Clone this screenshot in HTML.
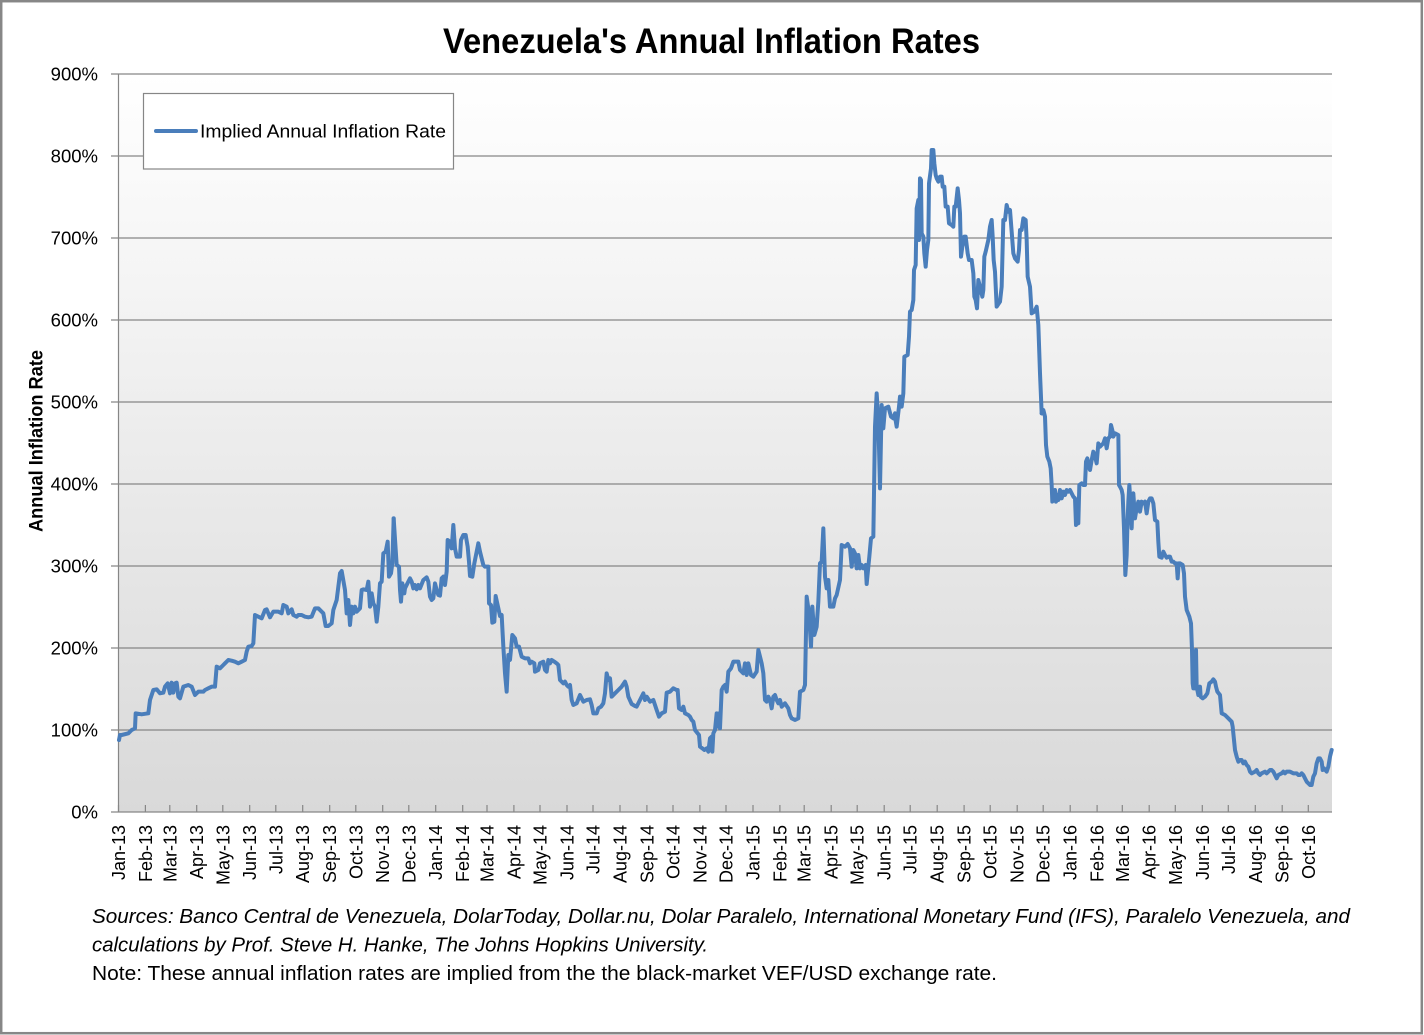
<!DOCTYPE html>
<html>
<head>
<meta charset="utf-8">
<style>
  html, body { margin:0; padding:0; background:#ffffff; }
  svg { display:block; }
  text { font-family: "Liberation Sans", Arial, sans-serif; fill:#000; }
</style>
</head>
<body>
<svg width="1424" height="1035" viewBox="0 0 1424 1035" xmlns="http://www.w3.org/2000/svg">
  <defs>
    <linearGradient id="bg" x1="0" y1="0" x2="0" y2="1">
      <stop offset="0" stop-color="#ffffff"/>
      <stop offset="1" stop-color="#d9d9d9"/>
    </linearGradient>
  </defs>

  <!-- outer border -->
  <rect x="1.2" y="1.2" width="1420.6" height="1032" fill="#ffffff" stroke="#878787" stroke-width="2.5"/>

  <!-- title -->
  <text x="443" y="53" font-size="35" font-weight="bold" textLength="537" lengthAdjust="spacingAndGlyphs">Venezuela's Annual Inflation Rates</text>

  <!-- plot area -->
  <rect x="118" y="74" width="1214" height="738" fill="url(#bg)"/>

  <!-- gridlines -->
  <g stroke="#868686" stroke-width="1.2">
    <line x1="111" y1="74" x2="1332" y2="74"/>
    <line x1="111" y1="156" x2="1332" y2="156"/>
    <line x1="111" y1="238" x2="1332" y2="238"/>
    <line x1="111" y1="320" x2="1332" y2="320"/>
    <line x1="111" y1="402" x2="1332" y2="402"/>
    <line x1="111" y1="484" x2="1332" y2="484"/>
    <line x1="111" y1="566" x2="1332" y2="566"/>
    <line x1="111" y1="648" x2="1332" y2="648"/>
    <line x1="111" y1="730" x2="1332" y2="730"/>
    <line x1="111" y1="812" x2="1332" y2="812"/>
    <line x1="118.5" y1="74" x2="118.5" y2="812"/>
  </g>

  <!-- x ticks (inward) -->
  <g stroke="#868686" stroke-width="1.2">
    <line x1="118.5" y1="805" x2="118.5" y2="812"/>
    <line x1="145.4" y1="805" x2="145.4" y2="812"/>
    <line x1="169.8" y1="805" x2="169.8" y2="812"/>
    <line x1="196.7" y1="805" x2="196.7" y2="812"/>
    <line x1="222.8" y1="805" x2="222.8" y2="812"/>
    <line x1="249.7" y1="805" x2="249.7" y2="812"/>
    <line x1="275.8" y1="805" x2="275.8" y2="812"/>
    <line x1="302.7" y1="805" x2="302.7" y2="812"/>
    <line x1="329.7" y1="805" x2="329.7" y2="812"/>
    <line x1="355.8" y1="805" x2="355.8" y2="812"/>
    <line x1="382.7" y1="805" x2="382.7" y2="812"/>
    <line x1="408.8" y1="805" x2="408.8" y2="812"/>
    <line x1="435.7" y1="805" x2="435.7" y2="812"/>
    <line x1="462.7" y1="805" x2="462.7" y2="812"/>
    <line x1="487.0" y1="805" x2="487.0" y2="812"/>
    <line x1="513.9" y1="805" x2="513.9" y2="812"/>
    <line x1="540.0" y1="805" x2="540.0" y2="812"/>
    <line x1="567.0" y1="805" x2="567.0" y2="812"/>
    <line x1="593.0" y1="805" x2="593.0" y2="812"/>
    <line x1="620.0" y1="805" x2="620.0" y2="812"/>
    <line x1="646.9" y1="805" x2="646.9" y2="812"/>
    <line x1="673.0" y1="805" x2="673.0" y2="812"/>
    <line x1="699.9" y1="805" x2="699.9" y2="812"/>
    <line x1="726.0" y1="805" x2="726.0" y2="812"/>
    <line x1="753.0" y1="805" x2="753.0" y2="812"/>
    <line x1="779.9" y1="805" x2="779.9" y2="812"/>
    <line x1="804.2" y1="805" x2="804.2" y2="812"/>
    <line x1="831.2" y1="805" x2="831.2" y2="812"/>
    <line x1="857.2" y1="805" x2="857.2" y2="812"/>
    <line x1="884.2" y1="805" x2="884.2" y2="812"/>
    <line x1="910.2" y1="805" x2="910.2" y2="812"/>
    <line x1="937.2" y1="805" x2="937.2" y2="812"/>
    <line x1="964.1" y1="805" x2="964.1" y2="812"/>
    <line x1="990.2" y1="805" x2="990.2" y2="812"/>
    <line x1="1017.2" y1="805" x2="1017.2" y2="812"/>
    <line x1="1043.2" y1="805" x2="1043.2" y2="812"/>
    <line x1="1070.2" y1="805" x2="1070.2" y2="812"/>
    <line x1="1097.1" y1="805" x2="1097.1" y2="812"/>
    <line x1="1122.3" y1="805" x2="1122.3" y2="812"/>
    <line x1="1149.2" y1="805" x2="1149.2" y2="812"/>
    <line x1="1175.3" y1="805" x2="1175.3" y2="812"/>
    <line x1="1202.3" y1="805" x2="1202.3" y2="812"/>
    <line x1="1228.3" y1="805" x2="1228.3" y2="812"/>
    <line x1="1255.3" y1="805" x2="1255.3" y2="812"/>
    <line x1="1282.2" y1="805" x2="1282.2" y2="812"/>
    <line x1="1308.3" y1="805" x2="1308.3" y2="812"/>
  </g>

  <!-- y labels -->
  <g font-size="18.5" text-anchor="end">
    <text x="98" y="80.5">900%</text>
    <text x="98" y="162.5">800%</text>
    <text x="98" y="244.5">700%</text>
    <text x="98" y="326.5">600%</text>
    <text x="98" y="408.5">500%</text>
    <text x="98" y="490.5">400%</text>
    <text x="98" y="572.5">300%</text>
    <text x="98" y="654.5">200%</text>
    <text x="98" y="736.5">100%</text>
    <text x="98" y="818.5">0%</text>
  </g>

  <!-- y axis title -->
  <text transform="translate(42.5,441) rotate(-90)" font-size="19" font-weight="bold" text-anchor="middle" textLength="182" lengthAdjust="spacingAndGlyphs">Annual Inflation Rate</text>

  <!-- x labels -->
  <g font-size="18" text-anchor="end">
    <text transform="translate(125.0,825) rotate(-90)">Jan-13</text>
    <text transform="translate(151.9,825) rotate(-90)">Feb-13</text>
    <text transform="translate(176.3,825) rotate(-90)">Mar-13</text>
    <text transform="translate(203.2,825) rotate(-90)">Apr-13</text>
    <text transform="translate(229.3,825) rotate(-90)">May-13</text>
    <text transform="translate(256.2,825) rotate(-90)">Jun-13</text>
    <text transform="translate(282.3,825) rotate(-90)">Jul-13</text>
    <text transform="translate(309.2,825) rotate(-90)">Aug-13</text>
    <text transform="translate(336.2,825) rotate(-90)">Sep-13</text>
    <text transform="translate(362.3,825) rotate(-90)">Oct-13</text>
    <text transform="translate(389.2,825) rotate(-90)">Nov-13</text>
    <text transform="translate(415.3,825) rotate(-90)">Dec-13</text>
    <text transform="translate(442.2,825) rotate(-90)">Jan-14</text>
    <text transform="translate(469.2,825) rotate(-90)">Feb-14</text>
    <text transform="translate(493.5,825) rotate(-90)">Mar-14</text>
    <text transform="translate(520.4,825) rotate(-90)">Apr-14</text>
    <text transform="translate(546.5,825) rotate(-90)">May-14</text>
    <text transform="translate(573.5,825) rotate(-90)">Jun-14</text>
    <text transform="translate(599.5,825) rotate(-90)">Jul-14</text>
    <text transform="translate(626.5,825) rotate(-90)">Aug-14</text>
    <text transform="translate(653.4,825) rotate(-90)">Sep-14</text>
    <text transform="translate(679.5,825) rotate(-90)">Oct-14</text>
    <text transform="translate(706.4,825) rotate(-90)">Nov-14</text>
    <text transform="translate(732.5,825) rotate(-90)">Dec-14</text>
    <text transform="translate(759.5,825) rotate(-90)">Jan-15</text>
    <text transform="translate(786.4,825) rotate(-90)">Feb-15</text>
    <text transform="translate(810.7,825) rotate(-90)">Mar-15</text>
    <text transform="translate(837.7,825) rotate(-90)">Apr-15</text>
    <text transform="translate(863.7,825) rotate(-90)">May-15</text>
    <text transform="translate(890.7,825) rotate(-90)">Jun-15</text>
    <text transform="translate(916.7,825) rotate(-90)">Jul-15</text>
    <text transform="translate(943.7,825) rotate(-90)">Aug-15</text>
    <text transform="translate(970.6,825) rotate(-90)">Sep-15</text>
    <text transform="translate(996.7,825) rotate(-90)">Oct-15</text>
    <text transform="translate(1023.7,825) rotate(-90)">Nov-15</text>
    <text transform="translate(1049.7,825) rotate(-90)">Dec-15</text>
    <text transform="translate(1076.7,825) rotate(-90)">Jan-16</text>
    <text transform="translate(1103.6,825) rotate(-90)">Feb-16</text>
    <text transform="translate(1128.8,825) rotate(-90)">Mar-16</text>
    <text transform="translate(1155.7,825) rotate(-90)">Apr-16</text>
    <text transform="translate(1181.8,825) rotate(-90)">May-16</text>
    <text transform="translate(1208.8,825) rotate(-90)">Jun-16</text>
    <text transform="translate(1234.8,825) rotate(-90)">Jul-16</text>
    <text transform="translate(1261.8,825) rotate(-90)">Aug-16</text>
    <text transform="translate(1288.7,825) rotate(-90)">Sep-16</text>
    <text transform="translate(1314.8,825) rotate(-90)">Oct-16</text>
  </g>

  <!-- series -->
  <g fill="none" stroke="#4a7ebb" stroke-width="4" stroke-linejoin="round" stroke-linecap="round">
    <g transform="translate(115,500) scale(0.333333)">
      <polyline vector-effect="non-scaling-stroke" points="12,720 15,705 20,705 40,700 50,690 60,685 62,640 80,643 100,640 105,600 115,570 125,568 135,580 145,578 150,560 158,550 165,580 170,548 175,578 180,550 185,548 190,590 195,595 205,560 220,555 230,560 240,585 250,575 265,575 270,570 280,565 290,560 300,560 305,500 315,505 325,495 330,490 340,480 350,482 360,485 370,490 380,485 390,480 395,455 400,440 410,438 415,430 420,345 430,350 440,355 450,330 455,328 460,340 465,352 475,335 490,335 500,340 505,315 515,320 520,340 530,328 535,345 545,350 550,345 560,345 570,350 580,352 590,350 600,325 610,325 620,335 625,340 632,378 640,378 650,370 655,330 665,300 675,220 680,213 690,270 695,340 700,300 705,375 710,320 715,340 720,320 725,335 735,325 740,270 745,268 755,270 760,245 765,320 770,280 775,310 780,320 785,365 790,320 795,250 800,245 805,160 812,155 818,125 822,230 828,220 832,190 836,55"/>
    </g>
    <g transform="translate(395,500) scale(0.333333)">
      <polyline vector-effect="non-scaling-stroke" points="-4,55 5,195 12,200 15,270 18,305 22,250 28,280 30,265 35,255 40,245 45,235 50,245 55,265 60,255 65,268 70,255 75,265 85,240 95,232 100,245 105,290 110,300 115,295 120,250 125,270 130,285 135,287 140,235 145,230 150,255 155,215 158,120 165,125 170,145 175,75 180,145 185,170 195,170 198,120 205,105 212,105 218,140 222,185 225,228 232,230 238,190 245,155 250,130 255,155 260,175 265,195 270,200 280,200 282,310 288,315 292,368 298,365 302,288 310,325 315,348 320,345 325,440 330,520 335,575 340,465 345,480 352,405 360,415 365,440 372,440 380,470 390,475 400,475 405,490 410,485 418,490 420,515 430,510 435,490 445,485 450,510 455,515 460,480 465,490 470,480 478,485 485,490 490,495 495,540 505,550 510,545 515,555 520,560 525,555 530,600 535,615 545,610 555,585 560,595 565,605 575,600 585,598 590,615 595,640 605,640 610,625 618,620 625,610 630,580 635,520 640,540 645,535 650,590 660,580 670,570 680,560 690,545 695,560 700,590 710,612 720,618 725,620 735,600 745,580 750,600 755,590 765,605 775,600 780,615 785,630 792,650 800,640 810,635 815,578 825,575 835,565 845,570"/>
    </g>
    <g transform="translate(675,380) scale(0.333333)">
      <polyline vector-effect="non-scaling-stroke" points="5,930 8,930 12,985 20,990 25,980 30,1000 40,1005 45,1010 50,1020 55,1025 60,1050 68,1060 72,1065 75,1100 82,1105 88,1110 95,1105 100,1115 105,1075 110,1070 112,1115 115,1060 120,1050 125,1000 128,1040 132,1000 135,1045 140,930 145,920 150,915 155,935 160,875 168,865 175,845 190,845 195,870 205,880 210,850 215,885 220,850 228,885 235,890 245,875 250,810 255,830 260,850 265,880 270,960 275,965 280,950 285,960 290,985 295,950 300,945 305,960 310,970 315,960 320,980 325,975 330,970 340,985 345,1005 350,1015 360,1020 370,1015 375,935 385,930 390,915 395,650 402,700 408,800 412,680 418,765 425,740 430,665 435,550 440,545 445,445 450,590 455,625 460,600 465,680 475,680 480,655 485,645 495,600 500,495 510,500 518,492 525,505 530,560 535,510 540,520 545,565 550,525 555,565 560,555 565,565 572,555 575,612 580,560 583,530 588,475 595,470 600,140 605,40 610,120 615,325 620,75 625,145 630,85 640,80 648,110 655,115 660,100"/>
    </g>
    <g transform="translate(895,140) scale(0.333333)">
      <polyline vector-effect="non-scaling-stroke" points="0,830 5,860 12,800 15,770 20,800 25,760 28,650 38,645 42,590 45,515 50,510 55,480 57,390 62,375 65,205 70,180 72,300 75,115 78,120 80,280 85,290 88,340 92,380 96,330 100,300 102,130 108,85 110,30 115,30 118,70 122,105 125,115 130,125 135,110 140,110 143,140 148,140 152,200 158,200 162,250 170,255 175,260 178,200 182,200 188,145 192,180 195,220 198,350 202,320 208,290 212,290 218,340 222,360 230,360 235,400 238,470 242,480 246,505 250,420 255,440 262,470 265,450 268,350 272,335 280,300 285,260 290,240 293,290 296,360 300,395 305,500 315,485 320,440 325,240 330,240 335,195 340,215 345,210 350,275 355,340 360,355 368,365 372,330 375,270 380,270 385,235 392,240 395,300 398,410 405,440 410,520 418,515 425,500 430,555 435,700 440,820"/>
    </g>
    <g transform="translate(1040,395) scale(0.333333)">
      <polyline vector-effect="non-scaling-stroke" points="5,55 10,45 15,65 18,150 22,185 28,200 32,220 35,270 37,320 42,310 45,285 48,320 52,300 55,315 60,285 65,310 70,290 75,300 80,285 85,290 90,285 95,295 100,305 105,310 108,390 112,380 115,385 118,270 125,265 130,270 135,270 138,200 142,190 145,210 150,225 155,195 160,170 165,185 170,205 175,145 180,155 185,150 190,145 195,130 200,160 205,130 210,125 213,90 218,110 220,125 225,115 235,120 237,270 240,275 245,285 248,300 252,400 256,540 260,480 262,400 265,320 268,270 272,330 275,400 278,300 280,295 285,370 290,340 295,320 300,350 305,320 310,325 315,320 320,355 325,320 330,310 335,310 340,325 345,375 352,380 355,440 358,485 365,488 370,470 375,480 380,488 385,485 390,485 395,500 400,500 405,505 410,505 413,550 416,505 420,510"/>
    </g>
    <g transform="translate(1180,540) scale(0.333333)">
      <polyline vector-effect="non-scaling-stroke" points="0,70 8,75 12,100 15,170 20,210 28,230 33,250 36,330 38,430 40,445 45,445 48,330 50,440 55,465 60,440 62,470 68,475 75,470 82,460 88,430 95,425 100,418 105,425 108,440 112,455 120,465 125,520 135,525 145,535 155,545 158,560 162,600 165,630 170,650 175,665 180,660 185,660 190,670 195,665 200,675 205,680 210,695 215,700 225,695 230,690 235,700 240,705 245,700 255,695 260,700 265,695 270,690 275,690 280,695 285,705 290,715 295,705 305,700 310,695 315,700 320,695 330,695 340,700 350,700 355,705 360,705 365,700 370,705 375,715 380,725 385,730 390,735 395,735 400,710 405,700 410,670 415,655 420,655 425,665 428,690 432,685 436,690 440,695 445,680 450,650 455,630"/>
    </g>
  </g>

  <!-- legend -->
  <rect x="143.5" y="93.5" width="310" height="75.5" fill="#ffffff" stroke="#868686" stroke-width="1.2"/>
  <line x1="156" y1="131" x2="196" y2="131" stroke="#4a7ebb" stroke-width="4" stroke-linecap="round"/>
  <text x="200" y="137.7" font-size="18" textLength="246" lengthAdjust="spacingAndGlyphs">Implied Annual Inflation Rate</text>

  <!-- footer -->
  <text x="92" y="923" font-size="20" font-style="italic" textLength="1258" lengthAdjust="spacingAndGlyphs">Sources: Banco Central de Venezuela, DolarToday, Dollar.nu, Dolar Paralelo, International Monetary Fund (IFS), Paralelo Venezuela, and</text>
  <text x="92" y="951.5" font-size="20" font-style="italic" textLength="616" lengthAdjust="spacingAndGlyphs">calculations by Prof. Steve H. Hanke, The Johns Hopkins University.</text>
  <text x="92" y="980" font-size="20" textLength="905" lengthAdjust="spacingAndGlyphs">Note: These annual inflation rates are implied from the the black-market VEF/USD exchange rate.</text>
</svg>
</body>
</html>
